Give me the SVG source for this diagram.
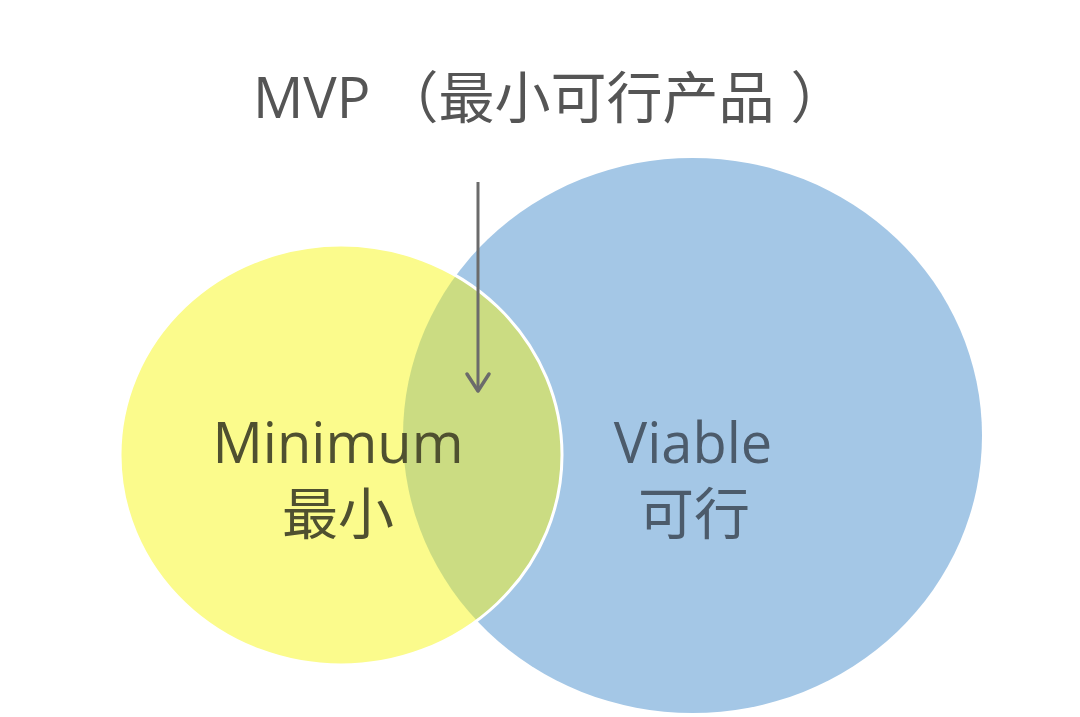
<svg xmlns="http://www.w3.org/2000/svg" width="1080" height="717" viewBox="0 0 1080 717">
  <style>
    .lbl { font-family: "Open Sans", "Noto Sans CJK SC", sans-serif; font-size: 56px; }
    .cjk { font-family: "Noto Sans CJK SC", sans-serif; font-size: 56px; }
    .conn { stroke: #6b6b6b; stroke-width: 3; fill: none; }
  </style>
  <defs>
    <clipPath id="clipYellow">
      <ellipse cx="341" cy="455" rx="221" ry="210"/>
    </clipPath>
    <marker id="chev" markerUnits="userSpaceOnUse" markerWidth="40" markerHeight="40" viewBox="-20 -20 40 40" refX="0" refY="0" orient="auto" overflow="visible">
      <path d="M-17,-11 L0,0 L-17,11" fill="none" stroke="#6b6b6b" stroke-width="3.5" stroke-linecap="round" stroke-linejoin="round"/>
    </marker>
  </defs>
  <rect x="0" y="0" width="1080" height="717" fill="#ffffff"/>

  <g id="node-viable">
    <ellipse cx="692.5" cy="435.5" rx="289.5" ry="277.5" fill="#a4c7e6"/>
  </g>

  <g id="node-minimum">
    <ellipse cx="341" cy="455" rx="221" ry="210" fill="#fbfb8c"/>
  </g>

  <g id="node-mvp-overlap">
    <ellipse cx="692.5" cy="435.5" rx="289.5" ry="277.5" fill="#cbdc82" clip-path="url(#clipYellow)"/>
    <ellipse cx="341" cy="455" rx="221" ry="210" fill="none" stroke="#ffffff" stroke-width="3"/>
  </g>

  <g id="labels">
    <text class="lbl" x="338" y="463" text-anchor="middle" fill="#4f5030">Minimum</text>
    <text class="cjk" x="338" y="534" text-anchor="middle" fill="#4f5030">最小</text>
    <text class="lbl" x="693" y="463" text-anchor="middle" fill="#4c5b6b">Viable</text>
    <text class="cjk" x="694" y="534" text-anchor="middle" fill="#4c5b6b">可行</text>
  </g>

  <g id="node-title">
    <text class="lbl" x="253" y="118" fill="#555555">MVP<tspan class="cjk" dx="12">（</tspan><tspan class="cjk">最小可行产品</tspan><tspan class="cjk" dx="16">）</tspan></text>
  </g>

  <g id="connectors">
    <line class="conn" x1="478" y1="182" x2="478" y2="391" marker-end="url(#chev)"/>
  </g>
</svg>
